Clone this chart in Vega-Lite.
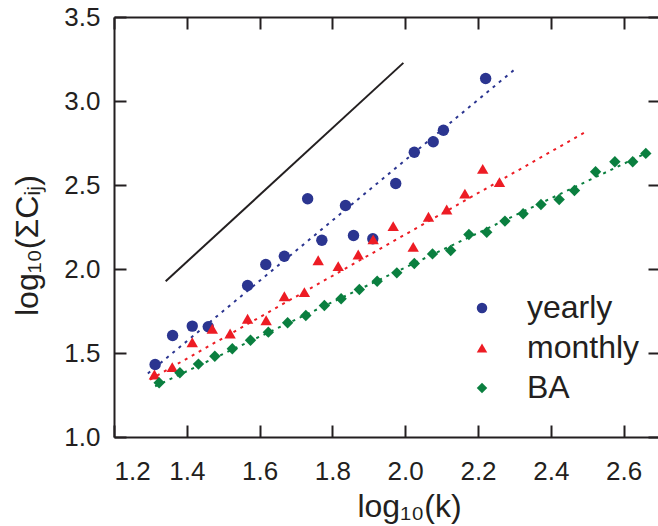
{
  "$schema": "https://vega.github.io/schema/vega-lite/v6.json",
  "autosize": "none",
  "width": 546,
  "height": 420,
  "padding": {"left": 114, "top": 17, "right": 0, "bottom": 89},
  "background": "white",
  "config": {
    "view": {"stroke": null},
    "font": "Liberation Sans",
    "axis": {
      "domainColor": "#231f20", "domainWidth": 2,
      "tickColor": "#231f20", "tickWidth": 2, "tickSize": -12,
      "labelColor": "#231f20", "labelFontSize": 26, "labelFont": "Liberation Sans",
      "titleColor": "#231f20", "titleFontSize": 32, "titleFont": "Liberation Sans", "titleFontWeight": "normal",
      "grid": false
    }
  },
  "datasets": {
    "pts": [
      {"s": "yearly", "x": 1.313, "y": 1.432},
      {"s": "yearly", "x": 1.361, "y": 1.604},
      {"s": "yearly", "x": 1.415, "y": 1.660},
      {"s": "yearly", "x": 1.459, "y": 1.656},
      {"s": "yearly", "x": 1.567, "y": 1.902},
      {"s": "yearly", "x": 1.617, "y": 2.027},
      {"s": "yearly", "x": 1.668, "y": 2.076},
      {"s": "yearly", "x": 1.732, "y": 2.418},
      {"s": "yearly", "x": 1.771, "y": 2.171},
      {"s": "yearly", "x": 1.836, "y": 2.378},
      {"s": "yearly", "x": 1.858, "y": 2.199},
      {"s": "yearly", "x": 1.911, "y": 2.180},
      {"s": "yearly", "x": 1.974, "y": 2.509},
      {"s": "yearly", "x": 2.025, "y": 2.695},
      {"s": "yearly", "x": 2.077, "y": 2.757},
      {"s": "yearly", "x": 2.105, "y": 2.826},
      {"s": "yearly", "x": 2.221, "y": 3.134},
      {"s": "monthly", "x": 1.311, "y": 1.372},
      {"s": "monthly", "x": 1.360, "y": 1.416},
      {"s": "monthly", "x": 1.415, "y": 1.564},
      {"s": "monthly", "x": 1.470, "y": 1.644},
      {"s": "monthly", "x": 1.519, "y": 1.616},
      {"s": "monthly", "x": 1.567, "y": 1.704},
      {"s": "monthly", "x": 1.618, "y": 1.695},
      {"s": "monthly", "x": 1.668, "y": 1.838},
      {"s": "monthly", "x": 1.723, "y": 1.862},
      {"s": "monthly", "x": 1.761, "y": 2.052},
      {"s": "monthly", "x": 1.816, "y": 2.017},
      {"s": "monthly", "x": 1.871, "y": 2.086},
      {"s": "monthly", "x": 1.912, "y": 2.176},
      {"s": "monthly", "x": 1.967, "y": 2.255},
      {"s": "monthly", "x": 2.022, "y": 2.132},
      {"s": "monthly", "x": 2.064, "y": 2.311},
      {"s": "monthly", "x": 2.114, "y": 2.354},
      {"s": "monthly", "x": 2.164, "y": 2.449},
      {"s": "monthly", "x": 2.213, "y": 2.596},
      {"s": "monthly", "x": 2.259, "y": 2.517},
      {"s": "BA", "x": 1.324, "y": 1.323},
      {"s": "BA", "x": 1.381, "y": 1.382},
      {"s": "BA", "x": 1.432, "y": 1.434},
      {"s": "BA", "x": 1.477, "y": 1.481},
      {"s": "BA", "x": 1.525, "y": 1.525},
      {"s": "BA", "x": 1.575, "y": 1.576},
      {"s": "BA", "x": 1.624, "y": 1.624},
      {"s": "BA", "x": 1.677, "y": 1.680},
      {"s": "BA", "x": 1.727, "y": 1.723},
      {"s": "BA", "x": 1.778, "y": 1.783},
      {"s": "BA", "x": 1.824, "y": 1.823},
      {"s": "BA", "x": 1.874, "y": 1.878},
      {"s": "BA", "x": 1.923, "y": 1.927},
      {"s": "BA", "x": 1.977, "y": 1.977},
      {"s": "BA", "x": 2.025, "y": 2.033},
      {"s": "BA", "x": 2.075, "y": 2.090},
      {"s": "BA", "x": 2.125, "y": 2.110},
      {"s": "BA", "x": 2.175, "y": 2.205},
      {"s": "BA", "x": 2.224, "y": 2.219},
      {"s": "BA", "x": 2.274, "y": 2.285},
      {"s": "BA", "x": 2.324, "y": 2.329},
      {"s": "BA", "x": 2.373, "y": 2.384},
      {"s": "BA", "x": 2.423, "y": 2.414},
      {"s": "BA", "x": 2.465, "y": 2.467},
      {"s": "BA", "x": 2.523, "y": 2.579},
      {"s": "BA", "x": 2.576, "y": 2.638},
      {"s": "BA", "x": 2.625, "y": 2.638},
      {"s": "BA", "x": 2.661, "y": 2.688}
    ],
    "fits": [
      {"f": "yearly fit", "x": 1.293, "y": 1.378},
      {"f": "yearly fit", "x": 2.303, "y": 3.192},
      {"f": "monthly fit", "x": 1.299, "y": 1.342},
      {"f": "monthly fit", "x": 2.499, "y": 2.820},
      {"f": "BA fit", "x": 1.313, "y": 1.302},
      {"f": "BA fit", "x": 2.673, "y": 2.701}
    ],
    "ref": [
      {"x": 1.342, "y": 1.927},
      {"x": 1.995, "y": 3.227}
    ]
  },
  "resolve": {"axis": {"x": "independent", "y": "independent"}},
  "layer": [
    {
      "data": {"name": "fits"},
      "mark": {"type": "line", "strokeWidth": 2, "strokeDash": [3, 5]},
      "encoding": {
        "x": {"field": "x", "type": "quantitative", "scale": {"domain": [1.2, 2.7], "nice": false, "zero": false},
              "axis": {"orient": "top", "labels": false, "title": null, "values": [1.2, 1.4, 1.6, 1.8, 2.0, 2.2, 2.4, 2.6]}},
        "y": {"field": "y", "type": "quantitative", "scale": {"domain": [1.0, 3.5], "nice": false, "zero": false},
              "axis": {"orient": "right", "labels": false, "title": null, "values": [1.0, 1.5, 2.0, 2.5, 3.0, 3.5]}},
        "detail": {"field": "f"},
        "stroke": {"field": "f", "type": "nominal", "legend": null,
                   "scale": {"domain": ["yearly fit", "monthly fit", "BA fit"], "range": ["#2b3590", "#ed1c24", "#0a7f3f"]}}
      }
    },
    {
      "data": {"name": "ref"},
      "mark": {"type": "line", "color": "#231f20", "strokeWidth": 2},
      "encoding": {
        "x": {"field": "x", "type": "quantitative", "axis": null},
        "y": {"field": "y", "type": "quantitative", "axis": null}
      }
    },
    {
      "data": {"name": "pts"},
      "mark": {"type": "point", "filled": true, "opacity": 1, "size": 130},
      "encoding": {
        "x": {"field": "x", "type": "quantitative",
              "axis": {"orient": "bottom", "title": "log₁₀(k)", "values": [1.2, 1.4, 1.6, 1.8, 2.0, 2.2, 2.4, 2.6], "format": ".1f", "labelPadding": 33, "titlePadding": 7, "titleX": 295}},
        "y": {"field": "y", "type": "quantitative",
              "axis": {"orient": "left", "title": "log₁₀(ΣCᵢⱼ)", "values": [1.0, 1.5, 2.0, 2.5, 3.0, 3.5], "format": ".1f", "labelPadding": 26, "titlePadding": 19, "titleY": 228}},
        "color": {"field": "s", "type": "nominal",
                  "scale": {"domain": ["yearly", "monthly", "BA"], "range": ["#2b3590", "#ed1c24", "#0a7f3f"]},
                  "legend": {"title": null, "orient": "none", "legendX": 352, "legendY": 275, "labelFontSize": 32, "labelColor": "#231f20", "labelFont": "Liberation Sans", "symbolSize": 110, "labelOffset": 29, "rowPadding": 8, "padding": 0}},
        "shape": {"field": "s", "type": "nominal",
                  "scale": {"domain": ["yearly", "monthly", "BA"], "range": ["circle", "triangle-up", "diamond"]}}
      }
    }
  ]
}
